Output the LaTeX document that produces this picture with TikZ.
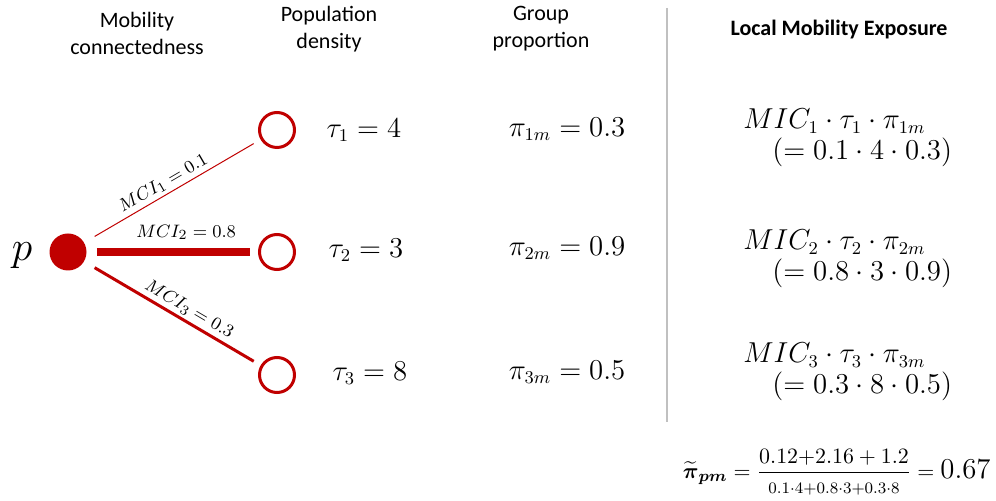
\documentclass[tikz,border=0pt]{standalone}
\usepackage{amsmath,amssymb}
\usepackage[no-math]{fontspec}
\setmainfont{Carlito}
\usetikzlibrary{positioning}
\definecolor{mred}{RGB}{192,0,0}
\definecolor{sepgray}{RGB}{192,192,192}
\tikzset{
  head/.style={
    align=center,
    inner sep=0pt,
    font=\fontsize{11}{13.5}\selectfont,
  },
  area/.style={circle, draw=mred, line width=1.5pt, minimum size=17.5pt, inner sep=0pt},
  origin/.style={circle, fill=mred, minimum size=18.5pt, inner sep=0pt},
  val/.style={inner sep=0pt, font=\fontsize{13.5}{16}\selectfont},
  mic/.style={align=left, inner sep=0pt, font=\fontsize{13.5}{15.5}\selectfont},
  link/.style={draw=mred, line cap=butt, shorten <=6pt, shorten >=4pt},
  lbl/.style={font=\fontsize{9.5}{11}\selectfont, sloped, above, inner sep=1.5pt},
}

\begin{document}
\begin{tikzpicture}[x=0.5pt, y=-0.5pt]
  \useasboundingbox (0,0) rectangle (996,501);

  % column heads
  \node[head] (hdmob) at (137,33) {Mobility\\connectedness};
  \node[head] (hdpop) at (329,29) {Population\\density};
  \node[head] (hdgrp) at (541,29) {Group\\proportion};
  \node[head, font=\fontsize{11}{13.5}\selectfont\bfseries] (hdlme) at (839,30) {Local Mobility Exposure};

  \coordinate (septop) at (667,8);
  \coordinate (sepbot) at (667,422);
  \draw[sepgray, line width=1.2pt] (septop) -- (sepbot);

  % origin and destinations
  \node[origin] (p) at (68,252) {};
  \node[inner sep=0pt, font=\fontsize{20}{24}\selectfont] (plbl) at (22,256) {$p$};
  \node[area] (c1) at (277,130) {};
  \node[area] (c2) at (277,252) {};
  \node[area] (c3) at (277,375) {};

  \draw[link, line width=0.5pt] (p) -- node[lbl, pos=0.48] {$MCI_1 = 0.1$} (c1);
  \draw[link, line width=4pt, shorten <=5pt] (p) -- node[lbl, pos=0.58, above=2.5pt] {$MCI_2 = 0.8$} (c2);
  \draw[link, line width=1.5pt] (p) -- node[lbl, pos=0.56] {$MCI_3 = 0.3$} (c3);

  % density and proportion
  \node[val] (tau1) at (364,130) {$\tau_1 = 4$};
  \node[val] (tau2) at (366,250) {$\tau_2 = 3$};
  \node[val] (tau3) at (370,373) {$\tau_3 = 8$};
  \node[val] (pi1) at (567,129) {$\pi_{1m} = 0.3$};
  \node[val] (pi2) at (567,248) {$\pi_{2m} = 0.9$};
  \node[val] (pi3) at (567,372) {$\pi_{3m} = 0.5$};

  % exposure terms
  \node[mic, anchor=west] (mic1) at (743,138) {$MIC_1 \cdot \tau_1 \cdot \pi_{1m}$\\\hspace*{14.5pt}$(= 0.1 \cdot 4 \cdot 0.3)$};
  \node[mic, anchor=west] (mic2) at (743,259) {$MIC_2 \cdot \tau_2 \cdot \pi_{2m}$\\\hspace*{14.5pt}$(= 0.8 \cdot 3 \cdot 0.9)$};
  \node[mic, anchor=west] (mic3) at (743,372) {$MIC_3 \cdot \tau_3 \cdot \pi_{3m}$\\\hspace*{14.5pt}$(= 0.3 \cdot 8 \cdot 0.5)$};

  \node[val, anchor=east, font=\fontsize{11}{13}\selectfont] (avg) at (991,472)
    {$\widetilde{\boldsymbol{\pi}}_{\boldsymbol{pm}} = \dfrac{0.12{+}2.16 + 1.2}{\scriptstyle 0.1\cdot 4+0.8\cdot 3+0.3\cdot 8} = \text{\fontsize{13.5}{16}\selectfont$0.67$}$};
\end{tikzpicture}
\end{document}
